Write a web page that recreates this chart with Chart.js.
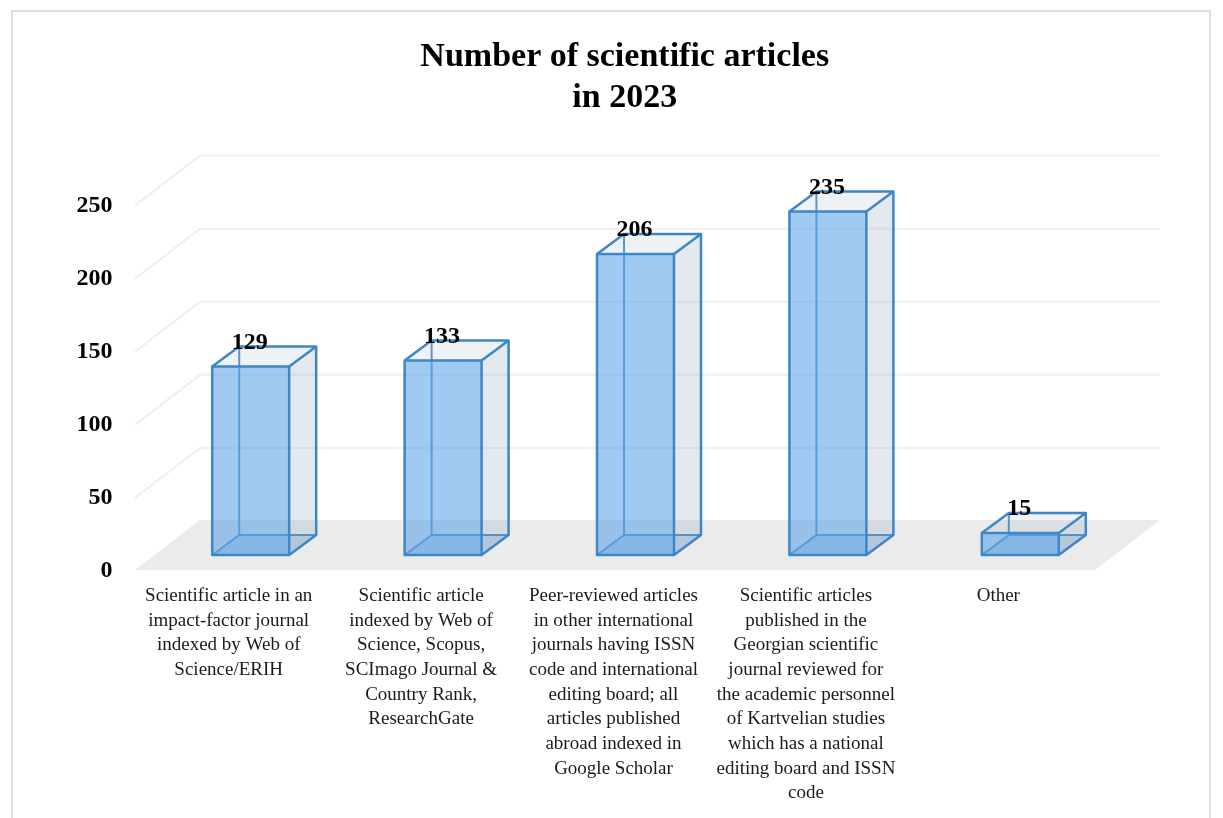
<!DOCTYPE html>
<html>
<head>
<meta charset="utf-8">
<title>Number of scientific articles in 2023</title>
<script src="https://cdn.jsdelivr.net/npm/chart.js@4"></script>
<style>
    html, body { margin: 0; padding: 0; background: #fff; }
    #frame { position: absolute; left: 11px; top: 10px; width: 1200px; height: 830px; border: 2px solid #dedede; box-sizing: border-box; }
    #wrap { position: absolute; left: 0; top: 0; width: 1223px; height: 818px; overflow: hidden; }
</style>
</head>
<body>
<div id="wrap">
    <div id="frame"></div>
    <canvas id="articlesChart" width="1223" height="818"></canvas>
</div>
<script>
var chartTitle = ['Number of scientific articles', 'in 2023'];

var categories = [
    ['Scientific article in an', 'impact-factor journal', 'indexed by Web of', 'Science/ERIH'],
    ['Scientific article', 'indexed by Web of', 'Science, Scopus,', 'SCImago Journal &', 'Country Rank,', 'ResearchGate'],
    ['Peer-reviewed articles', 'in other international', 'journals having ISSN', 'code and international', 'editing board; all', 'articles published', 'abroad indexed in', 'Google Scholar'],
    ['Scientific articles', 'published in the', 'Georgian scientific', 'journal reviewed for', 'the academic personnel', 'of Kartvelian studies', 'which has a national', 'editing board and ISSN', 'code'],
    ['Other']
];
var articleCounts = [129, 133, 206, 235, 15];
var tickValues = [0, 50, 100, 150, 200, 250];

var serif = '"Liberation Serif", "DejaVu Serif", serif';

// offsets of the fake 3d box, in pixels
var FRONT = { x: -19.5, y: 15 };
var BACK = { x: 45.5, y: -35 };
var DEPTH = { x: 27, y: -20 };

function poly(ctx, pts, fill) {
    ctx.beginPath();
    pts.forEach(function(p, i) {
        if (i === 0) ctx.moveTo(p[0], p[1]);
        else ctx.lineTo(p[0], p[1]);
    });
    ctx.closePath();
    ctx.fillStyle = fill;
    ctx.fill();
}

var perspective = {
    id: 'perspective',
    afterLayout: function(chart) {
        // title sits right of the middle of the plot in the original
        chart.titleBlock.left += 57;
    },
    beforeDatasetsDraw: function(chart) {
        var ctx = chart.ctx, area = chart.chartArea, y = chart.scales.y;
        var base = y.getPixelForValue(0);
        ctx.save();

        // floor
        poly(ctx, [
            [area.left + FRONT.x, base + FRONT.y],
            [area.left + BACK.x, base + BACK.y],
            [area.right + BACK.x - 2, base + BACK.y],
            [area.right + FRONT.x - 2, base + FRONT.y]
        ], '#ebebeb');

        // side wall and back wall gridlines
        ctx.strokeStyle = '#efefef';
        ctx.lineWidth = 2;
        tickValues.forEach(function(v) {
            if (v === 0) return;
            var py = y.getPixelForValue(v) + 1;
            ctx.beginPath();
            ctx.moveTo(area.left + FRONT.x, py + FRONT.y);
            ctx.lineTo(area.left + BACK.x, py + BACK.y);
            ctx.lineTo(area.right + BACK.x - 2, py + BACK.y);
            ctx.stroke();
        });

        // hidden faces of each bar
        chart.getDatasetMeta(0).data.forEach(function(bar) {
            var l = bar.x - bar.width / 2, r = bar.x + bar.width / 2;
            var t = bar.y, b = bar.base;
            var dx = DEPTH.x, dy = DEPTH.y;
            poly(ctx, [[r, t], [r + dx, t + dy], [r + dx, b + dy], [r, b]], 'rgba(140,165,185,0.24)');
            poly(ctx, [[l, t], [l + dx, t + dy], [r + dx, t + dy], [r, t]], 'rgba(140,165,185,0.14)');
            poly(ctx, [[l, b], [l + dx, b + dy], [r + dx, b + dy], [r, b]], 'rgba(70,130,190,0.22)');
            ctx.strokeStyle = 'rgba(63,134,198,0.85)';
            ctx.lineWidth = 2;
            ctx.beginPath();
            ctx.moveTo(l, b);
            ctx.lineTo(l + dx, b + dy);
            ctx.lineTo(l + dx, t + dy);
            ctx.moveTo(l + dx, b + dy);
            ctx.lineTo(r + dx, b + dy);
            ctx.stroke();
        });
        ctx.restore();
    },
    afterDatasetsDraw: function(chart) {
        var ctx = chart.ctx;
        ctx.save();
        chart.getDatasetMeta(0).data.forEach(function(bar, i) {
            var l = bar.x - bar.width / 2, r = bar.x + bar.width / 2;
            var t = bar.y, b = bar.base;
            var dx = DEPTH.x, dy = DEPTH.y;
            ctx.strokeStyle = '#3f86c6';
            ctx.lineWidth = 2.5;
            ctx.lineJoin = 'round';
            ctx.strokeRect(l, t, r - l, b - t);
            ctx.beginPath();
            ctx.moveTo(l, t);
            ctx.lineTo(l + dx, t + dy);
            ctx.lineTo(r + dx, t + dy);
            ctx.lineTo(r, t);
            ctx.moveTo(r + dx, t + dy);
            ctx.lineTo(r + dx, b + dy);
            ctx.lineTo(r, b);
            ctx.stroke();

            // value label
            ctx.fillStyle = '#000';
            ctx.font = 'bold 24px ' + serif;
            ctx.textAlign = 'center';
            ctx.textBaseline = 'middle';
            ctx.fillText(String(articleCounts[i]), bar.x - 1, t - 24);
        });
        ctx.restore();
    }
};

document.addEventListener('DOMContentLoaded', function() {
    var ctx = document.getElementById('articlesChart').getContext('2d');

    new Chart(ctx, {
        type: 'bar',
        data: {
            labels: categories,
            datasets: [{
                data: articleCounts,
                backgroundColor: 'rgba(88,160,232,0.56)',
                borderWidth: 0,
                barPercentage: 0.4,
                categoryPercentage: 1
            }]
        },
        plugins: [perspective],
        options: {
            responsive: false,
            animation: false,
            layout: { autoPadding: false, padding: { left: 76, right: 106.5, top: 37, bottom: 0 } },
            plugins: {
                legend: { display: false },
                tooltip: { enabled: false },
                title: {
                    display: true,
                    text: chartTitle,
                    color: '#000',
                    font: { family: serif, size: 34, weight: 'bold', lineHeight: 1.2 },
                    padding: { top: 0, bottom: 71 }
                }
            },
            scales: {
                x: {
                    grid: { display: false, drawTicks: false },
                    border: { display: false },
                    afterFit: function(scale) { scale.height = 263; },
                    ticks: {
                        color: '#1a1a1a',
                        autoSkip: false,
                        maxRotation: 0,
                        minRotation: 0,
                        labelOffset: -22,
                        padding: 29,
                        font: { family: serif, size: 19, lineHeight: 1.295 }
                    }
                },
                y: {
                    min: 0,
                    max: 250,
                    grid: { display: false, drawTicks: false },
                    border: { display: false },
                    afterFit: function(scale) { scale.width = 78.5; },
                    afterBuildTicks: function(scale) {
                        scale.ticks = tickValues.map(function(v) { return { value: v }; });
                    },
                    ticks: {
                        color: '#000',
                        padding: 42,
                        labelOffset: 16,
                        font: { family: serif, size: 24, weight: 'bold' }
                    }
                }
            }
        }
    });
});
</script>
</body>
</html>
